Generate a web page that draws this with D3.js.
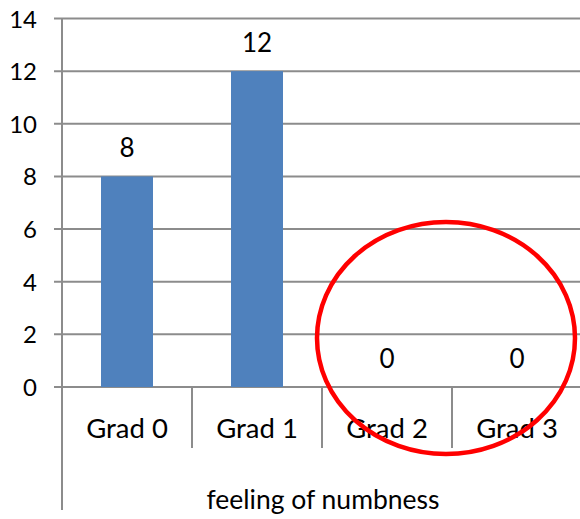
<!DOCTYPE html>
<html>
<head>
<meta charset="utf-8">
<script src="https://cdn.jsdelivr.net/npm/d3@7"></script>
<style>
  body { margin: 0; background: #fff; }
  svg { display: block; font-family: Lato, "Open Sans", sans-serif; }
</style>
</head>
<body>
<svg id="chart" width="580" height="519"></svg>
<script>
const categories = ["Grad 0", "Grad 1", "Grad 2", "Grad 3"];
const values = [8, 12, 0, 0];
const yTicks = [0, 2, 4, 6, 8, 10, 12, 14];
const axisTitle = "feeling of numbness";

const svg = d3.select("#chart");
const plotLeft = 62, plotRight = 582, plotTop = 18.5, plotBase = 387;
const gridColor = "#8c8c8c";

const x = d3.scaleBand().domain(categories).range([plotLeft, plotRight]);
const y = d3.scaleLinear().domain([0, 14]).range([plotBase, plotTop]);

// gridlines + ticks
svg.append("g")
  .selectAll("line")
  .data(yTicks)
  .enter()
  .append("line")
  .attr("x1", plotLeft - 8)
  .attr("x2", plotRight)
  .attr("y1", (d) => y(d))
  .attr("y2", (d) => y(d))
  .style("stroke", gridColor)
  .style("stroke-width", 2);

svg.append("g")
  .selectAll("text")
  .data(yTicks)
  .enter()
  .append("text")
  .attr("x", 37)
  .attr("y", (d) => y(d) + 9)
  .attr("text-anchor", "end")
  .style("font-size", "24px")
  .text((d) => d);

// bars
const bw = x.bandwidth() * 0.4;
svg.append("g")
  .selectAll("rect")
  .data(values)
  .enter()
  .append("rect")
  .attr("x", (d, i) => x(categories[i]) + (x.bandwidth() - bw) / 2)
  .attr("y", (d) => y(d))
  .attr("width", bw)
  .attr("height", (d) => plotBase - y(d))
  .style("fill", "#4F81BD");

// value labels
svg.append("g")
  .selectAll("text")
  .data(values)
  .enter()
  .append("text")
  .attr("x", (d, i) => x(categories[i]) + x.bandwidth() / 2)
  .attr("y", (d) => y(d) - 19)
  .attr("text-anchor", "middle")
  .style("font-size", "26px")
  .text((d) => d);

// y axis line
svg.append("line")
  .attr("x1", plotLeft).attr("x2", plotLeft)
  .attr("y1", plotTop).attr("y2", 510)
  .style("stroke", gridColor).style("stroke-width", 2);

// category separators
svg.append("g")
  .selectAll("line")
  .data(categories.slice(1))
  .enter()
  .append("line")
  .attr("x1", (d) => x(d)).attr("x2", (d) => x(d))
  .attr("y1", plotBase).attr("y2", 448)
  .style("stroke", gridColor).style("stroke-width", 2);

// category labels
svg.append("g")
  .selectAll("text")
  .data(categories)
  .enter()
  .append("text")
  .attr("x", (d) => x(d) + x.bandwidth() / 2)
  .attr("y", 438)
  .attr("text-anchor", "middle")
  .style("font-size", "27.5px")
  .text((d) => d);

svg.append("text")
  .attr("x", 323)
  .attr("y", 509)
  .attr("text-anchor", "middle")
  .style("font-size", "26.5px")
  .text(axisTitle);

// red highlight ellipse
svg.append("ellipse")
  .attr("cx", 446).attr("cy", 338)
  .attr("rx", 129).attr("ry", 116)
  .style("fill", "none")
  .style("stroke", "#ff0000")
  .style("stroke-width", 4.5);
</script>
</body>
</html>
